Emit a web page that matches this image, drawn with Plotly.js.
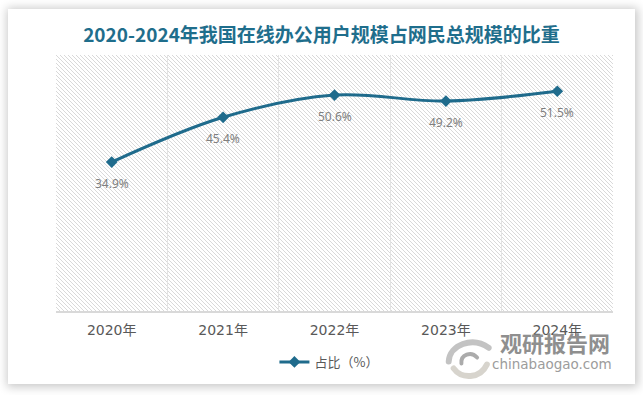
<!DOCTYPE html>
<html>
<head>
<meta charset="utf-8">
<script src="https://cdn.plot.ly/plotly-3.0.1.min.js"></script>
<style>
  html, body { margin: 0; padding: 0; background: #ffffff; width: 643px; height: 395px; overflow: hidden; }
  #card { position: absolute; left: 8px; top: 9px; width: 627px; height: 375px; background: #ffffff;
          box-shadow: 1px 1px 9px 2px rgba(0,0,0,0.22); }
  #chart { position: absolute; left: 0; top: 0; width: 643px; height: 395px; }
</style>
</head>
<body>
<div id="card"></div>
<div id="chart"></div>
<script>
// ---- data ----
var years = ['2020年', '2021年', '2022年', '2023年', '2024年'];
var share = [34.9, 45.4, 50.6, 49.2, 51.5];
var seriesName = '占比（%）';
var chartTitle = '2020-2024年我国在线办公用户规模占网民总规模的比重';

// ---- decorations ----
var hatchSvg = '<svg xmlns="http://www.w3.org/2000/svg" width="557" height="256" viewBox="0 0 557 256" preserveAspectRatio="none">' +
  '<defs><pattern id="p" width="4" height="4" patternUnits="userSpaceOnUse">' +
  '<path d="M-1,3 l2,2 M0,0 l4,4 M3,-1 l2,2" stroke="#d9d9d9" stroke-width="1"/></pattern></defs>' +
  '<rect width="557" height="256" fill="#ffffff"/><rect width="557" height="256" fill="url(#p)"/></svg>';
var logoSvg = '<svg xmlns="http://www.w3.org/2000/svg" width="48" height="46" viewBox="0 0 48 46">' +
  '<path d="M4,27 C5,10 28,1 45,13" stroke="#bdbdbd" stroke-width="6" fill="none" stroke-linecap="round"/>' +
  '<path d="M9,34 C17,45 36,45 43,30" stroke="#d3d0c8" stroke-width="6" fill="none" stroke-linecap="round"/>' +
  '<path d="M17,29 C16,20 27,16 33,23" stroke="#a3a3a3" stroke-width="4" fill="none" stroke-linecap="round"/>' +
  '</svg>';
function uri(s) { return 'data:image/svg+xml;charset=utf-8,' + encodeURIComponent(s); }

var lineColor = '#1f6b8c';

var trace = {
  x: years,
  y: share,
  name: seriesName,
  type: 'scatter',
  mode: 'lines+markers',
  line: { color: lineColor, width: 3, shape: 'spline', smoothing: 1 },
  marker: { symbol: 'diamond', size: 9, color: lineColor },
  hoverinfo: 'x+y'
};

var labelAnns = years.map(function (c, i) {
  return {
    x: c, y: share[i], xref: 'x', yref: 'y',
    text: share[i].toFixed(1) + '%', showarrow: false, yshift: -21,
    xanchor: 'center', yanchor: 'middle',
    font: { family: 'Noto Sans, Liberation Sans, sans-serif', size: 12, color: '#7f7f7f' }
  };
});

var wmAnns = [
  { xref: 'paper', yref: 'paper', x: 0.896, y: -0.12, xanchor: 'center', yanchor: 'middle',
    text: '<b>观研报告网</b>', showarrow: false,
    font: { family: 'Noto Sans CJK SC, sans-serif', size: 22, color: '#8f8f8f' } },
  { xref: 'paper', yref: 'paper', x: 0.890, y: -0.206, xanchor: 'center', yanchor: 'middle',
    text: 'chinabaogao.com', showarrow: false,
    font: { family: 'DejaVu Sans, sans-serif', size: 13.5, color: '#9c9c9c' } }
];

var layout = {
  width: 643, height: 395,
  margin: { l: 56, r: 30, t: 55, b: 84 },
  paper_bgcolor: 'rgba(0,0,0,0)',
  plot_bgcolor: 'rgba(0,0,0,0)',
  title: {
    text: chartTitle,
    x: 0.5, xanchor: 'center', xref: 'container',
    y: 1 - 35 / 395, yanchor: 'middle', yref: 'container',
    font: { family: 'Noto Sans CJK SC, sans-serif', size: 19, color: '#1f6e8c', weight: 'bold' }
  },
  xaxis: {
    type: 'category',
    range: [-0.5, 4.5],
    tickson: 'boundaries',
    showgrid: true, gridcolor: '#e3e3e3', gridwidth: 1,
    showline: true, linecolor: '#d9d9d9', linewidth: 1.5,
    ticks: '', ticklabelstandoff: 6,
    tickfont: { family: 'DejaVu Sans, Noto Sans CJK SC, sans-serif', size: 14, color: '#595959' },
    zeroline: false, fixedrange: true
  },
  yaxis: {
    range: [0, 60],
    showgrid: false, showline: false, showticklabels: false, ticks: '', zeroline: false, fixedrange: true
  },
  showlegend: true,
  legend: {
    orientation: 'h', x: 0.49, xanchor: 'center', y: -0.199, yanchor: 'middle',
    itemwidth: 30,
    font: { family: 'Noto Sans CJK SC, sans-serif', size: 13, color: '#595959' },
    bgcolor: 'rgba(0,0,0,0)'
  },
  images: [
    { source: uri(hatchSvg), xref: 'paper', yref: 'paper', x: 0, y: 1, sizex: 1, sizey: 1,
      xanchor: 'left', yanchor: 'top', sizing: 'stretch', layer: 'below' },
    { source: uri(logoSvg), xref: 'paper', yref: 'paper', x: 0.698, y: -0.094, sizex: 0.0844, sizey: 0.176,
      xanchor: 'left', yanchor: 'top', sizing: 'stretch', layer: 'above', opacity: 0.9 }
  ],
  annotations: labelAnns.concat(wmAnns)
};

Plotly.newPlot('chart', [trace], layout, { displayModeBar: false, staticPlot: true });
</script>
</body>
</html>
